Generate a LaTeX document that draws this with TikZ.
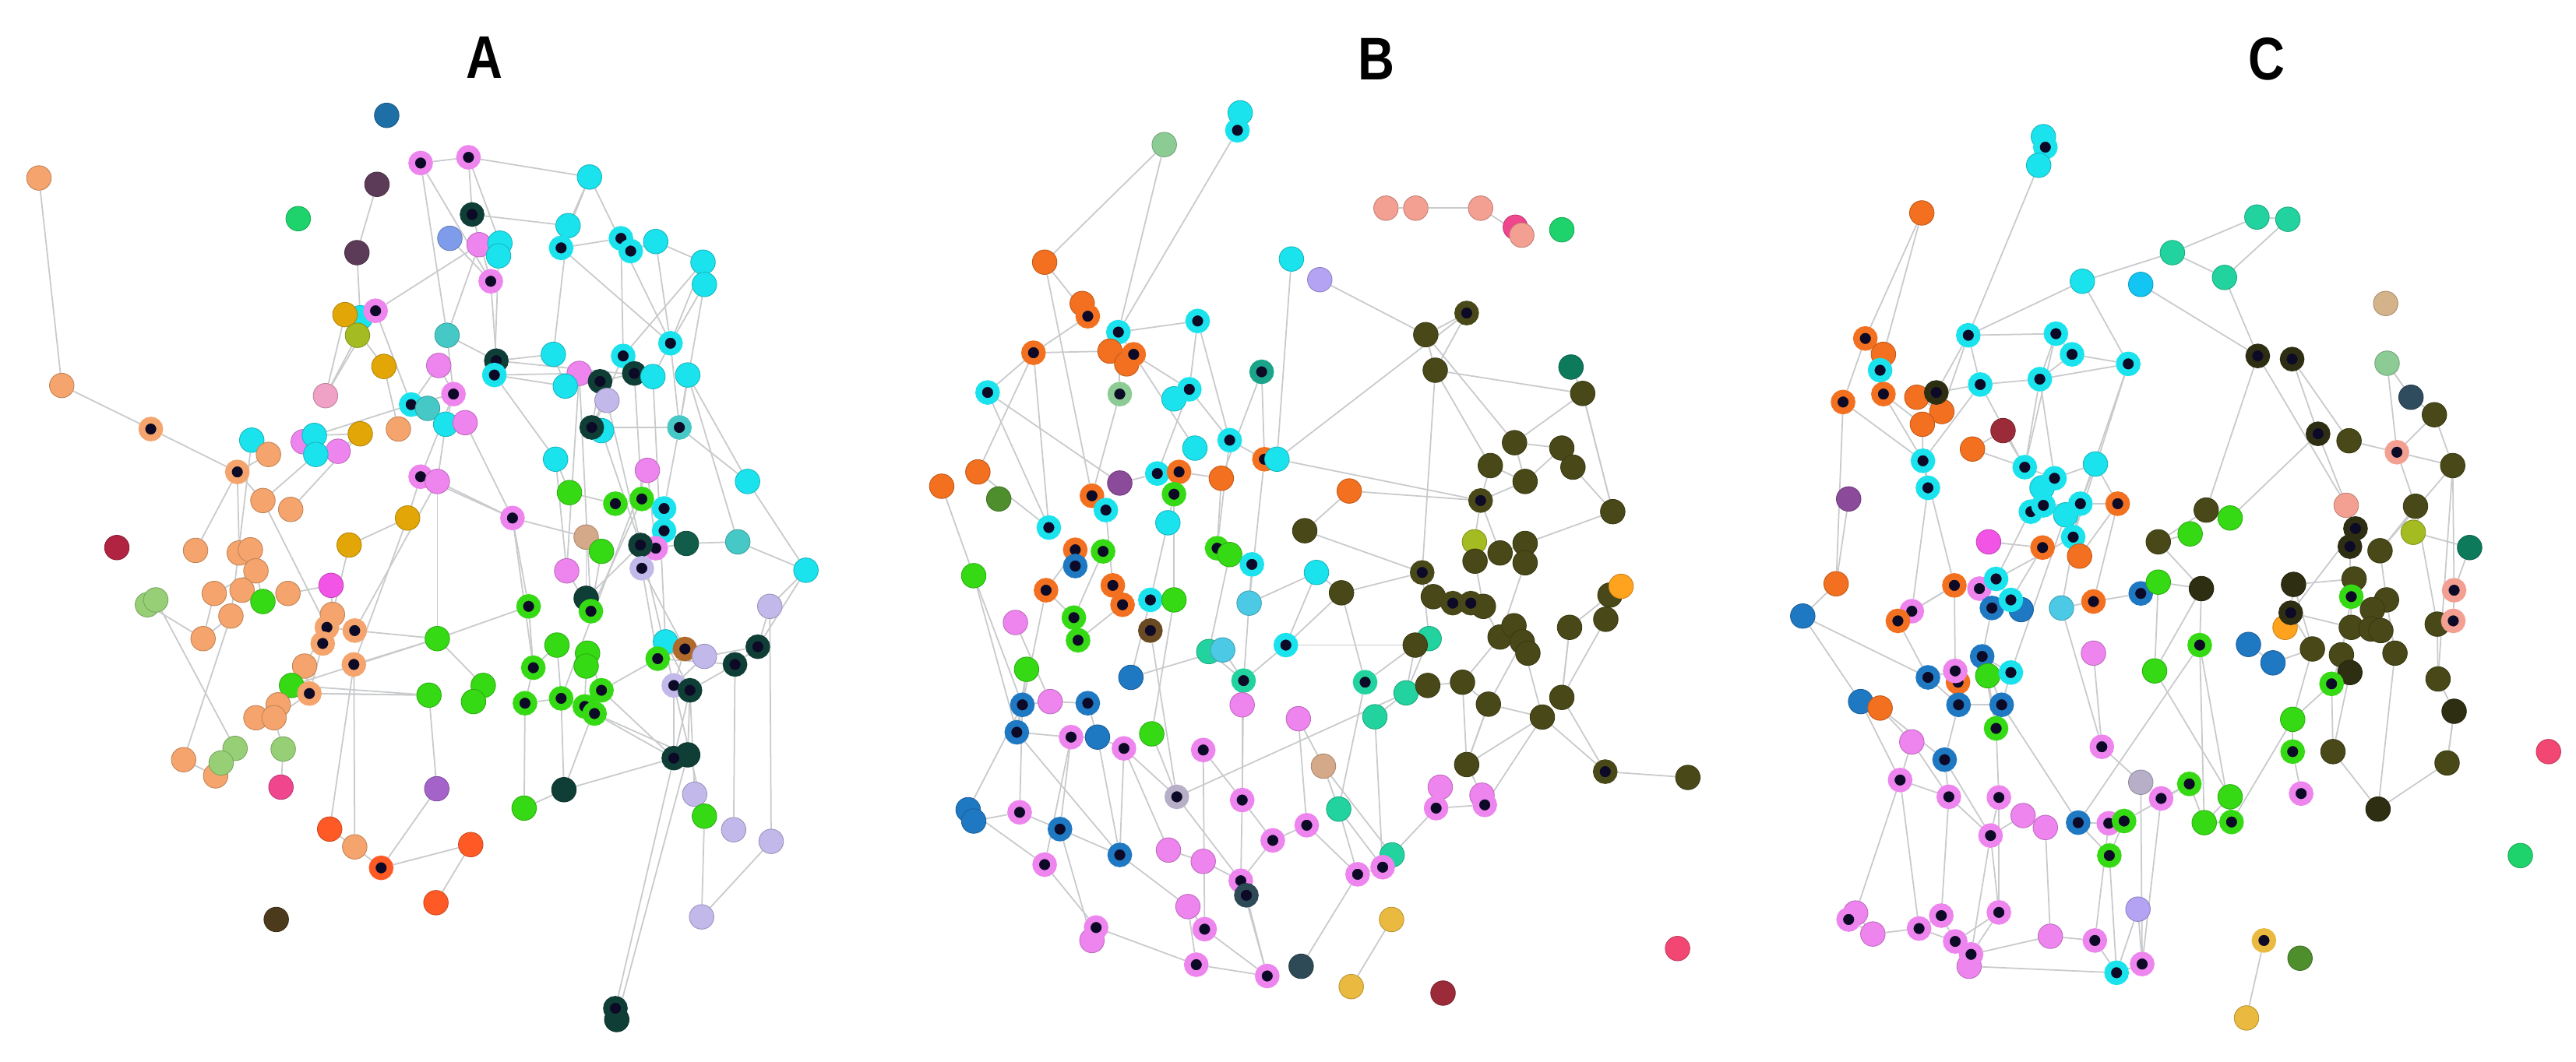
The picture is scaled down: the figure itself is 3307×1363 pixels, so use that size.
\documentclass[tikz,border=0pt]{standalone}
\usepackage{fontspec}
\setmainfont{Liberation Sans}
\pgfdeclarelayer{bg}
\pgfdeclarelayer{edges}
\pgfsetlayers{bg,edges,main}
\definecolor{peach}{HTML}{F4A46C}
\definecolor{sblue}{HTML}{1E6FA5}
\definecolor{violet}{HTML}{EE84EE}
\definecolor{dpurp}{HTML}{5C3B58}
\definecolor{sgreen}{HTML}{1ED36C}
\definecolor{gold}{HTML}{E2A706}
\definecolor{cyanA}{HTML}{1AE3EE}
\definecolor{ygreen}{HTML}{A4BB22}
\definecolor{pinkl}{HTML}{EFA2C6}
\definecolor{crimson}{HTML}{B02341}
\definecolor{magenta}{HTML}{F255E6}
\definecolor{deeppink}{HTML}{F0468E}
\definecolor{mpurple}{HTML}{A463C8}
\definecolor{dbrown}{HTML}{4B3A1B}
\definecolor{cornfl}{HTML}{7E9CEA}
\definecolor{tan}{HTML}{D4A98A}
\definecolor{dteal}{HTML}{0F3E36}
\definecolor{dteal2}{HTML}{125C4A}
\definecolor{mturq}{HTML}{46C9C6}
\definecolor{lav}{HTML}{C3B8EA}
\definecolor{green}{HTML}{36DA14}
\definecolor{lgreen}{HTML}{97CF76}
\definecolor{orred}{HTML}{FF5A26}
\definecolor{sienna}{HTML}{B06A2A}
\definecolor{sage}{HTML}{8DCB95}
\definecolor{orange}{HTML}{F2701F}
\definecolor{aquaD}{HTML}{1AA48A}
\definecolor{dgreen}{HTML}{4E8E2C}
\definecolor{purple}{HTML}{8B4A9A}
\definecolor{blueB}{HTML}{1F78C2}
\definecolor{skyb}{HTML}{4CC9E4}
\definecolor{aquam}{HTML}{22D3A0}
\definecolor{brownD}{HTML}{6A4A22}
\definecolor{lavg}{HTML}{B7AFC8}
\definecolor{slateB}{HTML}{2E4A56}
\definecolor{salmon}{HTML}{F3A092}
\definecolor{tealD}{HTML}{0D7A5C}
\definecolor{lavp}{HTML}{B3A3F2}
\definecolor{olive}{HTML}{484818}
\definecolor{orangeB}{HTML}{FFA21E}
\definecolor{goldB}{HTML}{E9BA3F}
\definecolor{maroon}{HTML}{9B2B39}
\definecolor{rose}{HTML}{F24772}
\definecolor{dsky}{HTML}{12C5F2}
\definecolor{oliveD}{HTML}{2E2E12}
\definecolor{tanC}{HTML}{D4B38A}
\definecolor{dslate}{HTML}{2F4B5E}
\definecolor{cen}{HTML}{0C0A26}
\definecolor{edgec}{HTML}{C8CACC}
\tikzset{
  dot/.style={circle, inner sep=0pt, minimum size=0.315cm, fill=#1, draw=#1!80!black, line width=0.25pt},
  ring/.style={circle, inner sep=0pt, minimum size=0.23cm, fill=cen, draw=#1, line width=0.085cm},
  edge/.style={draw=edgec, line width=0.5pt},
  ttl/.style={font=\fontsize{22}{22}\selectfont\bfseries, inner sep=0pt},
}
\newcommand{\placenodes}[1]{%
  \foreach \n/\x/\y/\c/\t in {#1}{%
    \ifnum\t=1 \node[ring=\c] (\n) at (\x,\y) {};\else \node[dot=\c] (\n) at (\x,\y) {};\fi
  }}
\begin{document}
\begin{tikzpicture}[x=0.01cm,y=-0.01cm]
\begin{pgfonlayer}{bg}
\fill[white] (0,0) rectangle (3307,1363);
\end{pgfonlayer}
\useasboundingbox (0,0) rectangle (3307,1363);
% titles
\node[ttl] (tA) at (622,74) {\scalebox{0.84}[1]{A}};
\node[ttl] (tB) at (1767,76) {\scalebox{0.84}[1]{B}};
\node[ttl] (tC) at (2910,76) {\scalebox{0.84}[1]{C}};
% ================= PANEL A =================
\begin{scope}[shift={(0,100)},xscale=0.35714,yscale=0.40816]
\placenodes{a1/140/315/peach/0,a2/1390/118/sblue/0,a3/1512/268/violet/1,a4/1355/335/dpurp/0,a5/1072/443/sgreen/0,a6/1283/550/dpurp/0,a8/1295/755/cyanA/0,a7/1240/745/gold/0,a9/1285/810/ygreen/0,a10/1350/733/violet/1,a11/1380/908/gold/0,a12/1170/1000/pinkl/0,a13/222/968/peach/0,a14/542/1105/peach/1,a15/905/1140/cyanA/0,a16/965/1185/peach/0,a17/853/1240/peach/1,a18/1090/1145/violet/0,a19/1130/1125/cyanA/0,a20/1215/1175/violet/0,a21/1135/1185/cyanA/0,a22/1295/1120/gold/0,a23/1432/1105/peach/0,a24/1478/1028/cyanA/1,a25/1512/1255/violet/1,a26/945/1330/peach/0,a27/1045/1358/peach/0,a28/420/1478/crimson/0,a29/703/1487/peach/0,a30/860/1495/peach/0,a31/900/1485/peach/0,a32/1255/1470/gold/0,a33/1465/1385/gold/0}
\end{scope}
\begin{scope}[shift={(540,100)},xscale=0.35714,yscale=0.40816]
\placenodes{a34/172/250/violet/1,a35/607/312/cyanA/0,a36/185/430/dteal/1,a37/105/505/cornfl/0,a38/210/525/violet/0,a39/285/520/cyanA/0,a40/280/560/cyanA/0,a41/252/640/violet/1,a42/530/465/cyanA/0,a43/505/535/cyanA/1,a44/720/505/cyanA/1,a45/755/545/cyanA/1,a46/845/515/cyanA/0,a47/1015/580/cyanA/0,a48/1020/650/cyanA/0,a49/95/810/mturq/0,a50/65/905/violet/0,a51/272/890/dteal/1,a52/265/935/cyanA/1,a53/118/995/violet/1,a54/25/1040/mturq/0,a55/90/1090/cyanA/0,a56/160/1085/violet/0,a57/477/870/cyanA/0,a58/570/930/violet/0,a59/520/970/cyanA/0,a60/645/955/dteal/1,a61/670/1015/lav/0,a62/728/875/cyanA/1,a63/768/930/dteal/1,a64/835/940/cyanA/0,a65/898/835/cyanA/1,a66/960/935/cyanA/0,a67/650/1110/cyanA/0,a68/615/1100/dteal/1,a69/930/1100/mturq/1,a70/485/1200/cyanA/0,a71/815/1235/violet/0,a72/1175/1270/cyanA/0,a73/60/1270/violet/0,a74/535/1305/green/0,a75/700/1340/green/1,a76/795/1325/green/1,a77/875/1355/cyanA/1,a78/875/1425/cyanA/1,a79/330/1385/violet/1,a80/595/1445/tan/0,a81/650/1490/green/0,a82/845/1480/violet/1,a83/790/1470/dteal/1,a84/955/1465/dteal2/0,a85/1140/1460/mturq/0}
\end{scope}
\begin{scope}[shift={(0,700)},xscale=0.35714,yscale=0.41459]
\placenodes{a86/920/80/peach/0,a87/770/150/peach/0,a88/870/140/peach/0,a89/1035/150/peach/0,a90/945/175/green/0,a91/1190/125/magenta/0,a92/530/185/lgreen/0,a93/560/170/lgreen/0,a94/830/220/peach/0,a95/730/290/peach/0,a96/1195/215/peach/0,a97/1175/255/peach/1,a98/1160/305/peach/1,a99/1275/265/peach/1,a100/1272/370/peach/1,a101/1095/375/peach/0,a102/1048/435/green/0,a103/1112/460/peach/1,a104/1000/495/peach/0,a105/920/535/peach/0,a106/985/535/peach/0,a107/775/715/peach/0,a108/845/630/lgreen/0,a109/795/675/lgreen/0,a110/660/665/peach/0,a111/1018/632/lgreen/0,a112/1010/750/deeppink/0,a113/1185/880/orred/0,a114/1275/935/peach/0,a115/1370/1000/orred/1,a116/993/1160/dbrown/0}
\end{scope}
\begin{scope}[shift={(540,700)},xscale=0.35714,yscale=0.41459]
\placenodes{a117/525/80/violet/0,a118/795/72/lav/1,a119/1385/78/cyanA/0,a120/1255/190/lav/0,a121/595/165/dteal/0,a122/612/205/green/1,a123/388/190/green/1,a124/60/290/green/0,a125/490/310/green/0,a126/600/335/green/0,a127/595/375/green/0,a128/405/380/green/1,a129/880/300/cyanA/0,a130/950/322/sienna/1,a131/1020/345/lav/0,a132/852/352/green/1,a133/1212/315/dteal/1,a134/1130/370/dteal/1,a135/910/435/lav/1,a136/968/450/dteal/1,a137/30/465/green/0,a138/225/435/green/0,a139/190/485/green/0,a140/375/490/green/1,a141/505/475/green/1,a142/650/450/green/1,a143/590/500/green/1,a144/625/522/green/1,a145/960/650/dteal/0,a146/910/660/dteal/1,a147/515/758/dteal/0,a148/58/755/mpurple/0,a149/372/815/green/0,a150/985/772/lav/0,a151/1020/840/green/0,a152/1125/882/lav/0,a153/1260/918/lav/0,a154/180/928/orred/0,a155/55/1108/orred/0,a156/1010/1152/lav/0,a157/705/1470/dteal/0,a158/700/1435/dteal/1}
\end{scope}
% ================= PANEL B =================
\begin{scope}[shift={(1100,100)},xscale=0.35714,yscale=0.40816]
\placenodes{b1/1105/210/sage/0,b2/1378/110/cyanA/0,b3/1368/165/cyanA/1,b4/675/580/orange/0,b5/810/710/orange/0,b6/830/750/orange/1,b7/940/800/cyanA/1,b8/1225/765/cyanA/1,b9/635/865/orange/1,b10/910/860/orange/0,b11/970/900/orange/0,b12/995/870/orange/1,b13/470/990/cyanA/1,b14/945/995/sage/1,b15/1140/1010/cyanA/0,b16/1195/980/cyanA/1,b17/1455/925/aquaD/1,b18/1215/1165/cyanA/0,b19/1340/1140/cyanA/1,b20/1465/1200/orange/1,b21/1510/1200/cyanA/0,b22/435/1240/orange/0,b23/305/1285/orange/0,b24/510/1325/dgreen/0,b25/945/1275/purple/0,b26/1080/1245/cyanA/1,b27/1158/1240/orange/1,b28/1310/1260/orange/0,b29/845/1315/orange/1,b30/895/1360/cyanA/1,b31/1140/1310/green/1,b32/1118/1400/cyanA/0,b33/690/1415/cyanA/1,b34/885/1490/green/1,b35/785/1485/orange/1,b36/1295/1480/green/1,b37/1340/1500/green/0}
\end{scope}
\begin{scope}[shift={(1100,700)},xscale=0.35714,yscale=0.41459]
\placenodes{b38/1420/60/cyanA/1,b39/785/65/blueB/1,b40/420/95/green/0,b41/680/140/orange/1,b42/920/125/orange/1,b43/955/185/orange/1,b44/1055/170/cyanA/1,b45/1140/170/green/0,b46/1410/180/skyb/0,b47/570/240/violet/0,b48/780/225/green/1,b49/795/295/green/1,b50/1055/265/brownD/1,b51/1265/330/aquam/0,b52/1315/325/skyb/0,b53/610/385/green/0,b54/985/410/blueB/0,b55/1390/420/aquam/1,b56/1385/495/violet/0,b57/595/495/blueB/1,b58/695/485/violet/0,b59/830/490/blueB/1,b60/575/580/blueB/1,b61/770/595/violet/1,b62/865/595/blueB/0,b63/960/630/violet/1,b64/1060/585/green/0,b65/1245/635/violet/1,b66/1150/780/lavg/1,b67/1385/790/violet/1,b68/400/820/blueB/0,b69/420/855/blueB/0,b70/585/828/violet/1,b71/730/880/blueB/1,b72/945/960/blueB/1,b73/1120/945/violet/0,b74/1245/980/violet/0,b75/1495/915/violet/1,b76/675/990/violet/1,b77/1380/1040/violet/1,b78/1400/1085/slateB/1,b79/1190/1120/violet/0,b80/1250/1190/violet/1,b81/845/1225/violet/0,b82/860/1185/violet/1,b83/1220/1300/violet/1,b84/1475/1335/violet/1}
\end{scope}
\begin{scope}[shift={(1640,100)},xscale=0.35714,yscale=0.40816]
\placenodes{b85/390/410/salmon/0,b86/497/410/salmon/0,b87/730/410/salmon/0,b88/855/470/deeppink/0,b89/878/495/salmon/0,b90/1022/478/sgreen/0,b91/50/570/cyanA/0,b92/152/635/lavp/0,b93/680/740/olive/1,b94/533/808/olive/0,b95/567/920/olive/0,b96/1055/910/tealD/0,b97/1097/993/olive/0,b98/852/1148/olive/0,b99/1022/1165/olive/0,b100/1062/1225/olive/0,b101/765/1220/olive/0,b102/890/1270/olive/0,b103/258/1300/orange/0,b104/730/1330/olive/1,b105/1205/1365/olive/0,b106/98/1425/olive/0,b107/708/1460/ygreen/0,b108/800/1495/olive/0,b109/890/1465/olive/0}
\end{scope}
\begin{scope}[shift={(1640,700)},xscale=0.35714,yscale=0.41459]
\placenodes{b110/140/85/cyanA/0,b111/230/148/olive/0,b112/520/85/olive/1,b113/710/50/olive/0,b114/890/55/olive/0,b115/560/160/olive/0,b116/630/180/olive/1,b117/740/190/olive/0,b118/695/180/olive/1,b119/1195/155/olive/0,b120/1235/128/orangeB/0,b121/1180/230/olive/0,b122/1050/255/olive/0,b123/30/310/cyanA/1,b124/545/290/aquam/0,b125/495/310/olive/0,b126/800/285/olive/0,b127/850/250/olive/0,b128/880/300/olive/0,b129/900/335/olive/0,b130/315/425/aquam/1,b131/462/458/aquam/0,b132/540/435/olive/0,b133/665/425/olive/0,b134/758/493/olive/0,b135/1022/472/olive/0,b136/952/533/olive/0,b137/75/538/violet/0,b138/350/532/aquam/0,b139/165/685/tan/0,b140/680/680/olive/0,b141/1178/702/olive/1,b142/1475/720/olive/0,b143/585/750/violet/0,b144/570/815/violet/1,b145/735/775/violet/0,b146/745/805/violet/1,b147/220/818/aquam/0,b148/105/868/violet/1,b149/412/960/aquam/0,b150/378/998/violet/1,b151/288/1020/violet/1,b152/410/1160/goldB/0,b153/85/1305/slateB/0,b154/265/1368/goldB/0,b155/595/1388/maroon/0,b156/1438/1250/rose/0}
\end{scope}
% ================= PANEL C =================
\begin{scope}[shift={(2200,100)},xscale=0.35714,yscale=0.40816]
\placenodes{c1/1185/185/cyanA/0,c2/1192/218/cyanA/1,c3/1168/275/cyanA/0,c4/748/425/orange/0,c5/1325/640/cyanA/0,c6/1535/650/dsky/0,c7/545/820/orange/1,c8/610/870/orange/0,c9/598/920/cyanA/1,c10/465/1020/orange/1,c11/610/995/orange/1,c12/730/1005/orange/0,c13/820/1050/orange/0,c14/750/1090/orange/0,c15/800/990/oliveD/1,c16/915/810/cyanA/1,c17/1230/805/cyanA/1,c18/1288/870/cyanA/1,c19/1490/900/cyanA/1,c20/958/965/cyanA/1,c21/1172/948/cyanA/1,c22/1040/1110/maroon/0,c23/930/1168/orange/0,c24/752/1205/cyanA/1,c25/770/1290/cyanA/1,c26/1118/1225/cyanA/1,c27/1180/1290/cyanA/0,c28/1225/1260/cyanA/1,c29/1372/1215/cyanA/0,c30/1265/1375/cyanA/0,c31/1140/1365/cyanA/1,c32/1185/1345/cyanA/1,c33/1318/1340/cyanA/1,c34/1292/1445/cyanA/1,c35/1452/1340/orange/1,c36/485/1325/purple/0,c37/988/1460/magenta/0,c38/1182/1478/orange/1,c39/1315/1505/orange/0}
\end{scope}
\begin{scope}[shift={(2740,100)},xscale=0.36166,yscale=0.40816]
\placenodes{c40/435/438/aquam/0,c41/545/445/aquam/0,c42/135/550/aquam/0,c43/320/628/aquam/0,c44/892/710/tanC/0,c45/438/875/oliveD/1,c46/560/885/oliveD/1,c47/897/898/sage/0,c48/982/1005/dslate/0,c49/1065/1060/olive/0,c50/652/1120/oliveD/1,c51/762/1142/olive/0,c52/932/1178/salmon/1,c53/1130/1220/olive/0,c54/255/1360/olive/0,c55/340/1385/green/0,c56/198/1435/green/0,c57/85/1460/olive/0,c58/752/1345/salmon/0,c59/785/1418/oliveD/1,c60/765/1475/oliveD/1,c61/872/1488/olive/0,c62/998/1348/olive/0,c63/990/1430/ygreen/0,c64/1190/1478/tealD/0}
\end{scope}
\begin{scope}[shift={(2200,700)},xscale=0.35714,yscale=0.41459]
\placenodes{c65/440/120/orange/0,c66/320/220/blueB/0,c67/865/125/orange/1,c68/955/135/violet/1,c69/1015/105/cyanA/1,c70/1105/200/blueB/0,c71/1000/195/blueB/1,c72/1068/170/cyanA/1,c73/1250/195/skyb/0,c74/1365/175/orange/1,c75/1535/150/blueB/1,c76/712/205/violet/1,c77/662/235/orange/1,c78/1365/335/violet/0,c79/965/345/blueB/1,c80/770/410/blueB/1,c81/878/425/orange/1,c82/868/390/violet/1,c83/985/405/green/0,c84/1068/395/cyanA/1,c85/528/485/blueB/0,c86/598/505/orange/0,c87/880/495/blueB/1,c88/1035/495/blueB/1,c89/1015/568/green/1,c90/712/610/violet/0,c91/830/665/blueB/1,c92/1395/625/violet/1,c93/670/728/violet/1,c94/845/780/violet/1,c95/1025/782/violet/1,c96/1535/735/lavg/0,c97/1112/838/violet/0,c98/1192/875/violet/0,c99/995/900/violet/1,c100/1310/860/blueB/1,c101/1420/862/violet/1,c102/1475/855/green/1,c103/1422/962/green/1,c104/1525/1128/lavp/0,c105/1025/1138/violet/1,c106/510/1140/violet/0,c107/485/1160/violet/1,c108/572/1205/violet/0,c109/818/1148/violet/1,c110/738/1188/violet/1,c111/868/1228/violet/1,c112/918/1305/violet/0,c113/925/1268/violet/1,c114/1210/1212/violet/0,c115/1370/1225/violet/1,c116/1448/1325/cyanA/1,c117/1540/1298/violet/1}
\end{scope}
\begin{scope}[shift={(2740,700)},xscale=0.36166,yscale=0.41459]
\placenodes{c118/85/115/green/0,c119/238/135/oliveD/0,c120/565/122/oliveD/0,c121/535/255/orangeB/0,c122/555/210/oliveD/1,c123/780/105/olive/0,c124/770/160/green/1,c125/895/170/olive/0,c126/845/200/olive/0,c127/770/255/olive/0,c128/840/260/olive/0,c129/875/265/olive/0,c130/1075/245/olive/0,c131/1135/140/salmon/1,c132/1132/235/salmon/1,c133/232/310/green/1,c134/405/308/blueB/0,c135/492/365/blueB/0,c136/632/322/olive/0,c137/735/340/olive/0,c138/765/395/oliveD/0,c139/700/430/green/1,c140/925/335/olive/0,c141/72/390/green/0,c142/1078/415/olive/0,c143/1135/515/oliveD/0,c144/562/540/green/0,c145/562/640/green/1,c146/705/640/olive/0,c147/1110/675/olive/0,c148/1470/640/rose/0,c149/195/740/green/1,c150/95/785/violet/1,c151/340/780/green/0,c152/345/858/green/1,c153/248/860/green/0,c154/592/770/violet/1,c155/865/818/oliveD/0,c156/1370/962/sgreen/0,c157/460/1225/goldB/1,c158/588/1280/dgreen/0,c159/398/1465/goldB/0}
\end{scope}
% ================= EDGES =================
\begin{pgfonlayer}{edges}
\foreach \u/\v in {a1/a13,a13/a14,a14/a17,a17/a29,a17/a30,a17/a26,a17/a16,a16/a15,a4/a6,a6/a8,a10/a12,a10/a24,a10/a38,a3/a41,a3/a34,a34/a35,a34/a36,a3/a49,a35/a43,a35/a65,a35/a42,a36/a41,a38/a49,a41/a51,a43/a65,a43/a44,a44/a45,a45/a46,a46/a47,a47/a65,a48/a65,a44/a62,a47/a62,a49/a51,a49/a53,a51/a57,a51/a64,a52/a58,a52/a70,a53/a55,a55/a73,a56/a79,a57/a59,a59/a60,a60/a68,a62/a63,a62/a68,a63/a76,a65/a69,a66/a69,a66/a72,a69/a72,a69/a77,a68/a69,a72/a119,a71/a82,a70/a74,a79/a80,a79/a73,a74/a75,a75/a76,a76/a77,a77/a78,a78/a84,a84/a85,a85/a119,a80/a81,a81/a122,a117/a122,a121/a122,a123/a128,a123/a124,a124/a138,a125/a141,a126/a127,a128/a140,a140/a141,a141/a143,a142/a144,a143/a144,a144/a146,a144/a145,a132/a142,a129/a132,a130/a135,a131/a135,a133/a134,a134/a136,a136/a146,a135/a146,a146/a158,a145/a157,a147/a146,a147/a142,a149/a140,a150/a151,a150/a136,a153/a120,a156/a151,a156/a153,a120/a133,a118/a82,a118/a132,a119/a133,a138/a139,a137/a102,a137/a103,a124/a99,a124/a100,a103/a101,a99/a97,a97/a98,a98/a103,a96/a91,a90/a88,a86/a87,a87/a95,a94/a95,a94/a110,a105/a106,a106/a103,a104/a102,a108/a109,a109/a107,a110/a107,a111/a112,a113/a114,a114/a115,a115/a154,a154/a155,a148/a137,a100/a114,a12/a7,a11/a23,a24/a53,a25/a53,a25/a73,a26/a97,a27/a22,a32/a33,a33/a25,a33/a100,a32/a96,a22/a19,a24/a50,a25/a79,a73/a99,a73/a124,a79/a128,a76/a122,a58/a117,a71/a141,a64/a129,a61/a135,a67/a83,a102/a124,a103/a137,a101/a96,a89/a91,a86/a90,a104/a105,a93/a108,a92/a95,a111/a106,a113/a100,a115/a148,a121/a80,a122/a58,a123/a79,a125/a128,a126/a142,a127/a143,a129/a136,a130/a132,a131/a133,a132/a134,a141/a147,a142/a146,a145/a136,a149/a147,a151/a135,a152/a134,a120/a119,a118/a130,a117/a70,a61/a68,a64/a65,a60/a63,a57/a42,a59/a52,a50/a53,a37/a41,a39/a34,a40/a52,a42/a36,a46/a65,a48/a69,a66/a85,a83/a121,a82/a84,a21/a26,a19/a24,a20/a22,a7/a11,a9/a12,a15/a94}
  \draw[edge] (\u) -- (\v);
\foreach \u/\v in {b1/b4,b1/b7,b3/b7,b4/b6,b4/b29,b6/b9,b7/b8,b8/b19,b9/b10,b9/b13,b9/b22,b9/b33,b12/b16,b12/b18,b13/b33,b14/b29,b16/b19,b16/b26,b19/b20,b19/b36,b17/b20,b17/b28,b13/b25,b22/b33,b23/b40,b26/b27,b27/b28,b28/b36,b29/b30,b31/b32,b25/b26,b7/b12,b7/b14,b8/b16,b10/b12,b21/b104,b21/b93,b91/b21,b92/b94,b95/b112,b95/b101,b93/b95,b97/b98,b97/b105,b100/b105,b101/b104,b104/b107,b106/b112,b99/b102,b98/b102,b94/b95,b96/b97,b111/b112,b111/b130,b112/b115,b112/b124,b113/b117,b116/b118,b118/b117,b123/b125,b125/b124,b130/b125,b130/b147,b131/b125,b133/b140,b134/b140,b134/b136,b136/b141,b135/b141,b141/b142,b136/b146,b140/b145,b138/b150,b147/b151,b148/b151,b149/b144,b152/b154,b137/b139,b139/b147,b128/b136,b128/b134,b126/b127,b127/b129,b122/b135,b121/b135,b119/b122,b114/b126,b40/b60,b40/b57,b41/b60,b41/b48,b42/b43,b43/b49,b44/b45,b44/b54,b48/b49,b50/b66,b53/b57,b54/b52,b57/b58,b58/b59,b59/b62,b60/b61,b60/b72,b61/b62,b62/b72,b63/b66,b65/b67,b67/b75,b67/b77,b67/b55,b56/b67,b68/b57,b68/b76,b70/b71,b71/b72,b72/b79,b76/b82,b82/b83,b79/b80,b80/b84,b83/b84,b77/b84,b78/b84,b74/b77,b73/b63,b66/b77,b31/b45,b36/b38,b38/b55,b34/b48,b35/b41,b30/b42,b32/b44,b37/b51,b20/b46,b110/b123,b123/b55,b46/b110,b137/b148,b148/b75,b66/b131,b144/b146,b85/b86,b86/b87,b89/b87,b93/b94,b94/b98,b95/b97,b98/b99,b99/b100,b101/b102,b102/b104,b104/b108,b108/b109,b109/b105,b105/b97,b103/b104,b106/b103,b107/b113,b110/b111,b111/b123,b115/b116,b117/b126,b124/b131,b126/b133,b132/b133,b133/b134,b134/b140,b135/b122,b136/b140,b138/b131,b139/b149,b143/b144,b145/b146,b147/b150,b150/b151,b149/b150,b153/b151,b47/b58,b53/b60,b57/b70,b61/b76,b61/b71,b62/b63,b63/b72,b64/b66,b65/b80,b69/b70,b71/b81,b73/b74,b75/b77,b79/b83,b81/b82,b52/b55,b51/b55,b45/b64}
  \draw[edge] (\u) -- (\v);
\foreach \u/\v in {c3/c16,c4/c8,c5/c19,c5/c16,c16/c17,c16/c15,c17/c18,c18/c19,c19/c21,c10/c7,c10/c24,c10/c65,c11/c24,c20/c21,c21/c26,c21/c28,c24/c25,c17/c26,c19/c33,c19/c34,c35/c33,c20/c26,c22/c26,c23/c26,c27/c31,c29/c33,c7/c9,c9/c11,c8/c9,c13/c16,c12/c15,c42/c40,c42/c43,c6/c45,c45/c54,c45/c58,c46/c50,c50/c59,c51/c52,c52/c53,c52/c62,c53/c61,c54/c57,c54/c55,c55/c50,c62/c61,c49/c53,c47/c48,c58/c59,c5/c42,c65/c66,c66/c80,c67/c82,c68/c71,c69/c72,c71/c79,c79/c88,c79/c89,c80/c87,c82/c87,c85/c86,c86/c90,c87/c91,c88/c89,c88/c100,c89/c95,c91/c94,c93/c106,c94/c109,c94/c99,c95/c99,c95/c105,c97/c98,c99/c113,c100/c101,c101/c102,c101/c115,c102/c103,c103/c116,c105/c113,c109/c110,c109/c111,c111/c113,c112/c116,c107/c108,c114/c115,c115/c116,c116/c117,c117/c104,c92/c96,c78/c92,c73/c92,c73/c74,c74/c75,c118/c119,c119/c133,c120/c122,c120/c136,c123/c124,c124/c137,c125/c126,c126/c128,c127/c128,c128/c129,c129/c140,c130/c132,c131/c132,c133/c153,c133/c152,c136/c144,c137/c139,c139/c144,c139/c146,c142/c143,c143/c147,c144/c145,c144/c152,c146/c155,c140/c155,c147/c155,c149/c153,c149/c150,c151/c152,c152/c153,c157/c159,c75/c118,c102/c149,c61/c125,c59/c122,c60/c127,c62/c130,c53/c131,c53/c142,c25/c76,c34/c69,c33/c73,c35/c74,c36/c65,c27/c69,c24/c67,c38/c72,c30/c84,c66/c85,c77/c80,c76/c67,c81/c82,c83/c84,c84/c88,c90/c93,c98/c114,c99/c105,c106/c107,c110/c93,c134/c135,c100/c133,c121/c122,c122/c136,c1/c3,c4/c7,c7/c8,c11/c14,c12/c13,c14/c24,c15/c20,c16/c20,c17/c21,c18/c21,c20/c24,c22/c23,c26/c28,c28/c29,c31/c32,c32/c33,c33/c34,c29/c35,c30/c34,c37/c38,c39/c35,c40/c41,c41/c43,c43/c45,c46/c51,c47/c52,c48/c49,c49/c52,c56/c57,c57/c119,c63/c64,c64/c131,c67/c76,c68/c69,c70/c72,c71/c72,c79/c84,c80/c82,c81/c87,c85/c93,c86/c91,c87/c88,c89/c83,c90/c94,c91/c99,c93/c94,c96/c117,c97/c99,c100/c103,c104/c116,c105/c111,c106/c108,c108/c110,c110/c111,c113/c114,c118/c141,c119/c141,c120/c123,c122/c127,c125/c140,c126/c129,c130/c142,c135/c136,c137/c138,c138/c146,c141/c151,c145/c154,c150/c117,c151/c153,c147/c143}
  \draw[edge] (\u) -- (\v);
\end{pgfonlayer}
\end{tikzpicture}
\end{document}
